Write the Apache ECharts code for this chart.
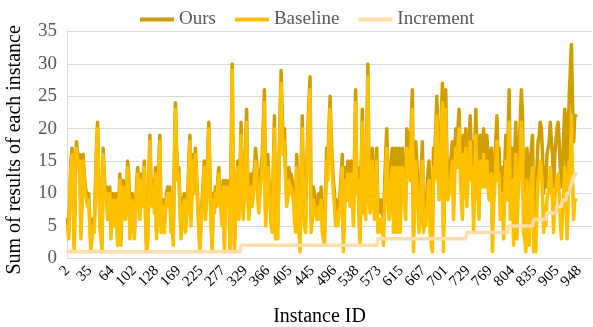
<!DOCTYPE html>
<html>
<head>
<meta charset="utf-8">
<script src="https://cdn.jsdelivr.net/npm/echarts@6/dist/echarts.min.js"></script>
<style>
  html, body { margin: 0; padding: 0; background: #fff; }
  #chart { width: 593px; height: 327px; }
</style>
</head>
<body>
<div id="chart"></div>
<script>
// x axis: 472 instance slots, a label on every 20th
const slotCount = 472
const tickLabels = ['2', '35', '64', '102', '128', '169', '225', '277', '329', '366', '405', '445',
  '496', '538', '573', '615', '667', '701', '729', '769', '804', '835', '905', '948']

const baseline = [
  5,3,9,14,16,9,1,12,17,15, 14,15,3,9,15,12,10,10,8,9, 9,1,3,5,4,10,16,20,12,5, 3,1,16,12,9,10,6,8,10,3,
  6,9,5,7,9,2,7,12,2,8, 11,10,6,9,14,12,3,6,9,7, 3,7,10,13,9,6,12,8,10,14, 7,1,2,10,18,11,8,11,7,13,
  3,9,14,18,4,7,8,4,7,9, 10,8,10,4,5,2,14,23,16,12, 13,8,3,6,8,9,4,6,8,14, 18,5,11,15,10,16,12,8,4,1,
  5,8,11,14,6,9,15,20,12,5, 1,9,7,10,8,11,13,9,7,5, 11,1,11,9,8,11,1,14,29,12, 1,6,10,14,6,12,19,9,6,10,
  15,21,10,6,9,11,8,10,12,15, 13,9,7,10,10,14,19,24,5,9, 14,10,8,5,4,12,20,3,5,3, 12,20,27,20,16,18,12,8,9,12,
  10,11,10,9,6,4,14,8,4,1, 12,20,9,5,4,12,18,22,26,4, 6,9,8,7,6,7,8,6,9,4, 3,2,9,15,12,18,23,17,13,10,
  8,5,7,5,5,8,11,14,1,7, 12,9,13,10,8,13,9,5,14,24, 10,12,6,2,12,21,7,10,6,17, 28,10,7,10,15,9,6,11,15,4,
  4,6,4,6,2,8,13,17,10,6, 9,12,14,4,9,14,4,9,14,4, 10,14,11,8,6,17,16,15,12,18, 23,1,10,15,12,8,4,6,11,15,
  4,6,5,7,10,12,4,2,1,14, 12,17,22,14,9,13,19,24,1,12, 23,13,9,9,11,13,15,6,12,17, 14,17,20,14,9,6,16,12,17,8,
  12,14,18,12,14,4,12,19,13,9, 6,15,12,11,16,13,11,15,11,9, 12,13,1,8,11,14,18,12,13,6, 9,10,3,10,15,9,14,21,6,10,
  12,2,11,16,3,9,12,16,21,17, 4,3,1,12,8,2,10,12,14,1, 2,1,8,12,13,15,14,10,4,8, 5,9,10,11,14,11,9,4,9,11,
  12,13,10,6,3,3,10,14,12,3, 8,15,14,22,12,6,9,9
]

const ours = [
  6,4,10,15,17,10,2,13,18,16, 15,16,4,10,16,13,11,11,9,10, 10,2,4,6,5,11,17,21,13,6, 4,2,17,13,10,11,7,9,11,4,
  7,10,6,8,10,3,8,13,3,9, 12,11,7,10,15,13,4,7,10,8, 4,8,11,14,10,7,13,9,11,15, 8,2,3,11,19,12,9,12,8,14,
  4,10,15,19,5,8,9,5,8,10, 11,9,11,5,6,3,15,24,17,13, 14,9,4,7,9,10,5,7,9,15, 19,6,12,16,11,17,13,9,5,2,
  6,9,12,15,7,10,16,21,13,6, 2,10,8,11,9,12,14,10,8,6, 12,2,12,10,9,12,2,15,30,13, 2,7,11,15,7,13,21,11,8,12,
  17,23,12,8,11,13,10,12,14,17, 15,11,9,12,12,16,21,26,7,11, 16,12,10,7,6,14,22,5,7,5, 14,22,29,22,18,20,14,10,11,14,
  12,13,12,11,8,6,16,10,6,3, 14,22,11,7,6,14,20,24,28,6, 8,11,10,9,8,9,10,8,11,6, 5,4,11,17,14,20,25,19,15,12,
  10,7,9,7,7,10,13,16,3,9, 14,11,15,12,10,15,11,7,16,26, 12,14,8,4,14,23,9,12,8,19, 30,12,9,12,17,11,8,13,17,7,
  7,9,7,9,5,11,16,20,13,9, 12,15,17,7,12,17,7,12,17,7, 13,17,14,11,9,20,19,18,15,21, 26,4,13,18,15,11,7,9,14,18,
  7,9,8,10,13,15,7,5,4,17, 15,20,25,17,12,16,22,27,4,15, 26,16,12,12,14,16,18,9,15,20, 17,20,23,17,12,9,19,15,20,12,
  16,18,22,16,18,8,16,23,17,13, 10,19,16,15,20,17,15,19,15,13, 16,17,5,12,15,18,22,16,17,10, 13,14,7,14,19,13,18,26,11,15,
  17,7,16,21,8,14,17,21,26,22, 9,8,6,17,13,7,15,17,19,7, 8,7,14,18,19,21,20,16,10,14, 11,16,17,18,21,18,16,11,16,18,
  20,21,18,14,11,12,19,23,21,13, 18,25,25,33,24,18,22,22
]

// increment is a step line: [slot index, value] at each corner
const increment = [
  [0, 1], [155, 1], [156, 2], [278, 2], [279, 3], [358, 3], [359, 4], [396, 4],
  [397, 5], [418, 5], [419, 6], [430, 6], [431, 7], [439, 7], [440, 8], [444, 8],
  [445, 9], [448, 9], [449, 10], [451, 10], [452, 11], [453, 11], [454, 12], [455, 12],
  [456, 13], [457, 13]
]

const serif = '"Liberation Serif", "Times New Roman", serif'
const slots = Array.from({ length: slotCount }, (_, i) => String(i))

const chart = echarts.init(document.getElementById('chart'))

const lineSeries = (name, data, color) => ({
  name,
  type: 'line',
  data,
  showSymbol: false,
  symbol: 'none',
  sampling: null,
  lineStyle: { color, width: 3.5, join: 'round', cap: 'round' },
  itemStyle: { color }
})

chart.setOption({
  animation: false,
  legend: {
    left: 135,
    top: 5,
    icon: 'rect',
    itemWidth: 34,
    itemHeight: 4,
    itemGap: 19,
    textStyle: { fontFamily: serif, fontSize: 19, color: '#595959' },
    data: ['Ours', 'Baseline', 'Increment']
  },
  grid: { left: 67, right: 1, top: 31.5, bottom: 68.7, outerBoundsMode: 'none', containLabel: false },
  xAxis: {
    type: 'category',
    data: slots,
    boundaryGap: true,
    name: 'Instance ID',
    nameLocation: 'middle',
    nameGap: 48,
    nameTextStyle: { fontFamily: serif, fontSize: 20, color: '#000', padding: [0, 20, 0, 0] },
    axisLine: { lineStyle: { color: '#d9d9d9', width: 1 } },
    axisTick: { show: false },
    axisLabel: {
      interval: 19,
      rotate: 45,
      margin: 10,
      padding: [10, 0, 0, 0],
      showMinLabel: true,
      showMaxLabel: true,
      hideOverlap: false,
      fontFamily: serif,
      fontSize: 15,
      color: '#000',
      formatter: (value, index) => tickLabels[index / 20] || ''
    },
    splitLine: { show: false }
  },
  yAxis: {
    type: 'value',
    min: 0,
    max: 35,
    interval: 5,
    name: 'Sum of results of each instance',
    nameLocation: 'middle',
    nameGap: 42,
    nameTextStyle: { fontFamily: serif, fontSize: 20, color: '#000', padding: [0, 10, 0, 0] },
    axisLine: { show: true, lineStyle: { color: '#d9d9d9' } },
    axisTick: { show: false },
    axisLabel: { fontFamily: serif, fontSize: 19, color: '#595959', margin: 10 },
    splitLine: { lineStyle: { color: '#d9d9d9', width: 1 } }
  },
  series: [
    lineSeries('Ours', ours, '#D09E00'),
    lineSeries('Baseline', baseline, '#FFC000'),
    lineSeries('Increment', increment, '#FFDCAA')
  ]
})

window.addEventListener('resize', () => chart.resize())
</script>
</body>
</html>
